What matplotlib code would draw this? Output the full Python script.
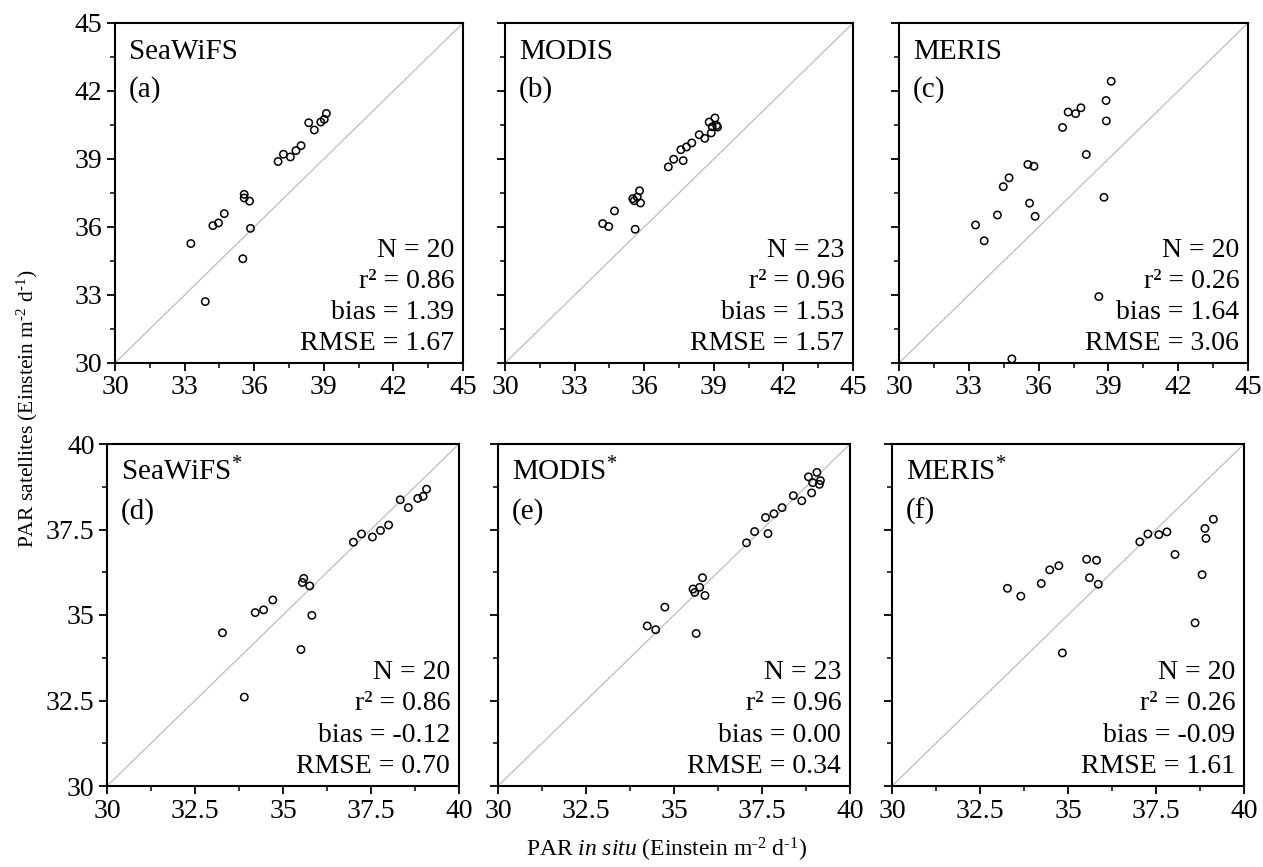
import numpy as np
import matplotlib
matplotlib.use('Agg')
import matplotlib.pyplot as plt

plt.rcParams['font.family'] = ['Liberation Serif', 'DejaVu Serif']
plt.rcParams['mathtext.fontset'] = 'custom'
plt.rcParams['mathtext.rm'] = 'Liberation Serif'
plt.rcParams['mathtext.it'] = 'Liberation Serif:italic'

# ---- data ----
# (a) SeaWiFS
sea_x = [33.27, 33.89, 34.22, 34.46, 34.71, 35.51, 35.57, 35.57, 35.80, 35.84,
         37.03, 37.26, 37.56, 37.80, 38.02, 38.35, 38.59, 38.87, 39.02, 39.11]
sea_y = [35.27, 32.71, 36.06, 36.18, 36.59, 34.60, 37.44, 37.28, 37.14, 35.94,
         38.89, 39.21, 39.09, 39.37, 39.59, 40.60, 40.28, 40.63, 40.75, 41.01]
# (b) MODIS
mod_x = [34.21, 34.47, 34.72, 35.61, 35.51, 35.57, 35.70, 35.80, 35.84, 37.04, 37.27,
         37.58, 37.68, 37.82, 38.05, 38.37, 38.61, 38.80, 38.89, 38.93, 39.05, 39.12, 39.16]
mod_y = [36.15, 36.02, 36.71, 35.90, 37.25, 37.16, 37.32, 37.60, 37.06, 38.65, 38.99,
         39.41, 38.93, 39.53, 39.71, 40.07, 39.91, 40.63, 40.15, 40.42, 40.81, 40.48, 40.41]
# (c) MERIS
mer_x = [33.29, 33.66, 34.23, 34.48, 34.73, 34.85, 35.54, 35.61, 35.80, 35.85,
         37.03, 37.27, 37.59, 37.82, 38.05, 38.59, 38.81, 38.90, 38.91, 39.12]
mer_y = [36.09, 35.39, 36.53, 37.78, 38.17, 30.18, 38.76, 37.05, 38.68, 36.47,
         40.39, 41.07, 41.00, 41.26, 39.20, 32.93, 37.31, 41.58, 40.68, 42.43]
# (d) SeaWiFS*
seac_x = [33.28, 33.90, 34.21, 34.45, 34.71, 35.51, 35.59, 35.55, 35.76, 35.82,
          37.00, 37.23, 37.54, 37.77, 38.00, 38.33, 38.56, 38.83, 38.98, 39.08]
seac_y = [34.48, 32.60, 35.07, 35.15, 35.44, 33.99, 36.07, 35.95, 35.85, 34.99,
          37.13, 37.37, 37.28, 37.47, 37.63, 38.37, 38.14, 38.41, 38.47, 38.68]
# (e) MODIS*
modc_x = [34.24, 34.48, 34.74, 35.63, 35.54, 35.59, 35.73, 35.81, 35.88, 37.06, 37.29,
          37.60, 37.67, 37.84, 38.07, 38.39, 38.63, 38.82, 38.91, 38.94, 39.06, 39.13, 39.16]
modc_y = [34.68, 34.57, 35.23, 34.46, 35.76, 35.66, 35.81, 36.09, 35.57, 37.11, 37.44,
          37.85, 37.38, 37.96, 38.14, 38.49, 38.34, 39.04, 38.57, 38.87, 39.17, 38.82, 38.93]
# (f) MERIS*
merc_x = [33.28, 33.66, 34.24, 34.48, 34.74, 34.84, 35.53, 35.61, 35.81, 35.86,
          37.04, 37.27, 37.58, 37.81, 38.04, 38.61, 38.81, 38.89, 38.92, 39.13]
merc_y = [35.78, 35.55, 35.92, 36.32, 36.44, 33.89, 36.63, 36.09, 36.60, 35.90,
          37.14, 37.37, 37.35, 37.43, 36.77, 34.77, 36.18, 37.53, 37.24, 37.80]

names = ['SeaWiFS', 'MODIS', 'MERIS', 'SeaWiFS$^{*}$', 'MODIS$^{*}$', 'MERIS$^{*}$']
letters = ['(a)', '(b)', '(c)', '(d)', '(e)', '(f)']
xs = [sea_x, mod_x, mer_x, seac_x, modc_x, merc_x]
ys = [sea_y, mod_y, mer_y, seac_y, modc_y, merc_y]
n_vals = [20, 23, 20, 20, 23, 20]
r2_vals = ['0.86', '0.96', '0.26', '0.86', '0.96', '0.26']
bias_vals = ['1.39', '1.53', '1.64', '-0.12', '0.00', '-0.09']
rmse_vals = ['1.67', '1.57', '3.06', '0.70', '0.34', '1.61']

top_ticks = [30, 33, 36, 39, 42, 45]
top_labels = ['30', '33', '36', '39', '42', '45']
bot_ticks = [30, 32.5, 35, 37.5, 40]
bot_labels = ['30', '32.5', '35', '37.5', '40']

W, H = 1263, 867
fig = plt.figure(figsize=(W / 100, H / 100), dpi=100)

# axes boxes in pixels: left, top, right, bottom
boxes = [(115, 23, 463, 363), (505, 23, 853, 363), (899, 23, 1248, 363),
         (107, 444, 459, 786), (498, 444, 850, 786), (892, 444, 1244, 786)]

for i in range(6):
    l, t, r, b = boxes[i]
    ax = fig.add_axes([l / W, 1 - b / H, (r - l) / W, (b - t) / H])
    if i < 3:
        ticks, labels = top_ticks, top_labels
    else:
        ticks, labels = bot_ticks, bot_labels
    lo, hi = ticks[0], ticks[-1]
    step = ticks[1] - ticks[0]
    minors = np.arange(lo + step / 2, hi, step)
    ax.plot([lo, hi], [lo, hi], color='#bdbdbd', lw=0.9, zorder=1)
    ax.scatter(xs[i], ys[i], s=28, facecolors='none', edgecolors='black',
               linewidths=1.1, zorder=3, clip_on=False)
    ax.set_xlim(lo, hi)
    ax.set_ylim(lo, hi)
    ax.set_xticks(ticks)
    ax.set_xticklabels(labels)
    ax.set_yticks(ticks)
    if i in (0, 3):
        ax.set_yticklabels(labels)
    else:
        ax.set_yticklabels([])
    ax.set_xticks(minors, minor=True)
    ax.set_yticks(minors, minor=True)
    ax.tick_params(which='major', direction='out', length=6, width=1.3,
                   labelsize=20, pad=3)
    ax.tick_params(which='minor', direction='out', length=3.5, width=1.1)
    for sp in ax.spines.values():
        sp.set_linewidth(1.5)

    ax.text(0.04, 0.894, names[i], transform=ax.transAxes, fontsize=21,
            va='baseline', ha='left')
    ax.text(0.04, 0.782, letters[i], transform=ax.transAxes, fontsize=21,
            va='baseline', ha='left')

    lines = ['N = %d' % n_vals[i], 'r\u00b2 = ' + r2_vals[i],
             'bias = ' + bias_vals[i], 'RMSE = ' + rmse_vals[i]]
    ypos = [0.313, 0.222, 0.130, 0.039]
    for txt, yy in zip(lines, ypos):
        ax.text(0.975, yy, txt, transform=ax.transAxes, fontsize=20,
                va='baseline', ha='right')

fig.text(27 / W, 1 - 409 / H, 'PAR satellites (Einstein m$^{\\text{-}2}$ d$^{\\text{-}1}$)',
         rotation=90, fontsize=15.5, ha='center', va='center')
fig.text(667 / W, 1 - 857 / H,
         'PAR $\\mathit{in\\ situ}$ (Einstein m$^{\\text{-}2}$ d$^{\\text{-}1}$)',
         fontsize=17, ha='center', va='baseline')

fig.savefig('out.png', dpi=100)
